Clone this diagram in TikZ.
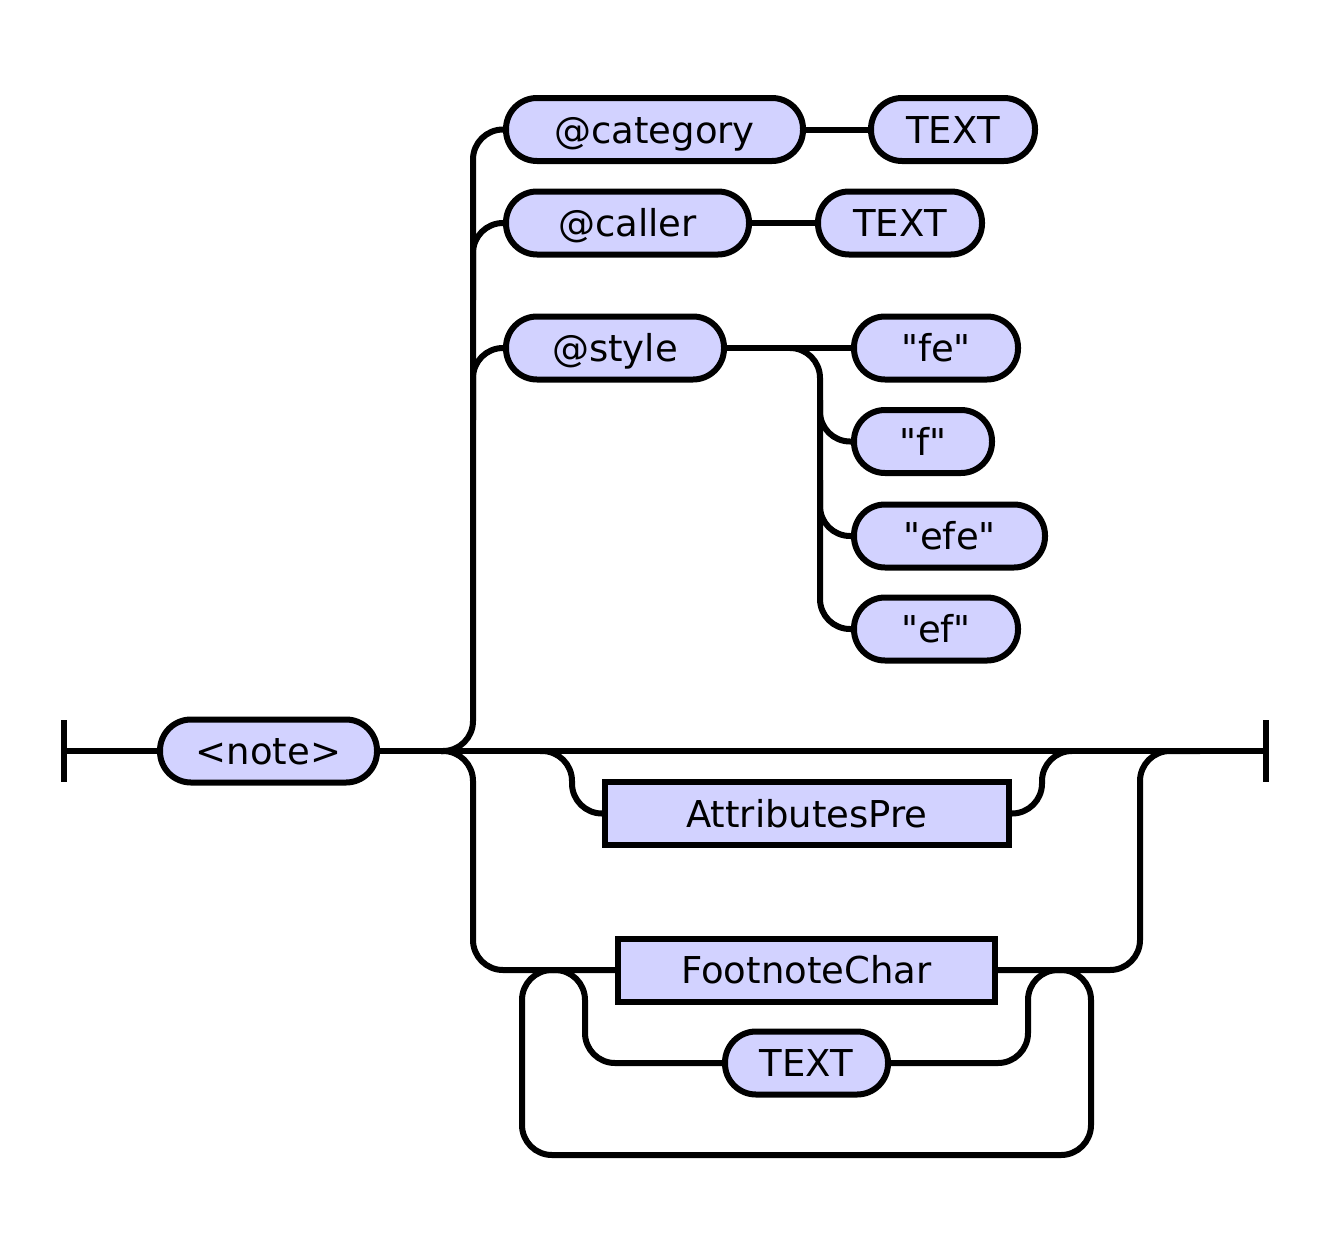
\documentclass[tikz,border=0pt]{standalone}
\usepackage{fontspec}
\setmainfont{DejaVu Sans}[Ligatures=TeXOff]
\definecolor{boxfill}{RGB}{210,210,255}
\begin{document}
\begin{tikzpicture}[x=1pt,y=-1pt,
  every node/.style={font=\fontsize{37}{44}\selectfont, inner sep=0pt, text height=27pt, text depth=0pt, align=center},
  term/.style={draw=black, line width=6pt, fill=boxfill, rounded corners=31pt, minimum height=63pt},
  nterm/.style={draw=black, line width=6pt, fill=boxfill, minimum height=63pt},
  wire/.style={line width=6pt, rounded corners=30pt},
  bar/.style={line width=6pt}]
\useasboundingbox (0,0) rectangle (1327,1247);

% nodes
\node[term, minimum width=297pt] (cat) at (654.5,129.5) {@category};
\node[term, minimum width=164pt] (t1) at (953,129.5) {TEXT};
\node[term, minimum width=243pt] (caller) at (627.5,223) {@caller};
\node[term, minimum width=164pt] (t2) at (900,223) {TEXT};
\node[term, minimum width=218pt] (style) at (615,348) {@style};
\node[term, minimum width=164pt] (fe) at (936,348) {"fe"};
\node[term, minimum width=138pt] (f) at (923,441.5) {"f"};
\node[term, minimum width=191pt] (efe) at (949.5,536) {"efe"};
\node[term, minimum width=164pt] (ef) at (936,629) {"ef"};

\coordinate (start) at (64,751);
\coordinate (end) at (1266,751);

% start / end bars
\draw[bar] (64,720) -- (64,782);
\draw[bar] (1266,720) -- (1266,782);

% main line
\draw[wire] (start) -- (268,751);
\draw[wire] (268,751) -- (end);

% upward attribute branch
\draw[wire] (441,751) -- (473,751) -- (473,129.5) -- (cat.west);
\draw[wire] (473,300) -- (473,223) -- (caller.west);
\draw[wire] (473,420) -- (473,348) -- (style.west);
\draw[wire] (cat.east) -- (t1.west);
\draw[wire] (caller.east) -- (t2.west);
\draw[wire] (style.east) -- (fe.west);
\draw[wire] (790,348) -- (820,348) -- (820,629) -- (ef.west);
\draw[wire] (820,400) -- (820,441.5) -- (f.west);
\draw[wire] (820,480) -- (820,536) -- (efe.west);

% optional AttributesPre
\draw[wire] (540,751) -- (572,751) -- (572,813.5) -- (602,813.5);
\draw[wire] (1012,813.5) -- (1042,813.5) -- (1042,751) -- (1072,751);

% FootnoteChar branch
\draw[wire] (441,751) -- (473,751) -- (473,970) -- (615,970);
\draw[wire] (998,970) -- (1140,970) -- (1140,751) -- (1200,751);

% repetition loops
\draw[wire] (553,970) -- (522,970) -- (522,1155) -- (1091,1155) -- (1091,970) -- (1059,970);
\draw[wire] (553,970) -- (585,970) -- (585,1063) -- (730,1063);
\draw[wire] (880,1063) -- (1028,1063) -- (1028,970) -- (1059,970);

% nodes on the main track (drawn over the wires)
\node[term, minimum width=217pt] (note) at (268.5,751) {<note>};
\node[nterm, minimum width=404pt] (ap) at (807,813.5) {AttributesPre};
\node[nterm, minimum width=377pt] (fc) at (806.5,970) {FootnoteChar};
\node[term, minimum width=163pt] (t3) at (806.5,1063) {TEXT};
\end{tikzpicture}
\end{document}
